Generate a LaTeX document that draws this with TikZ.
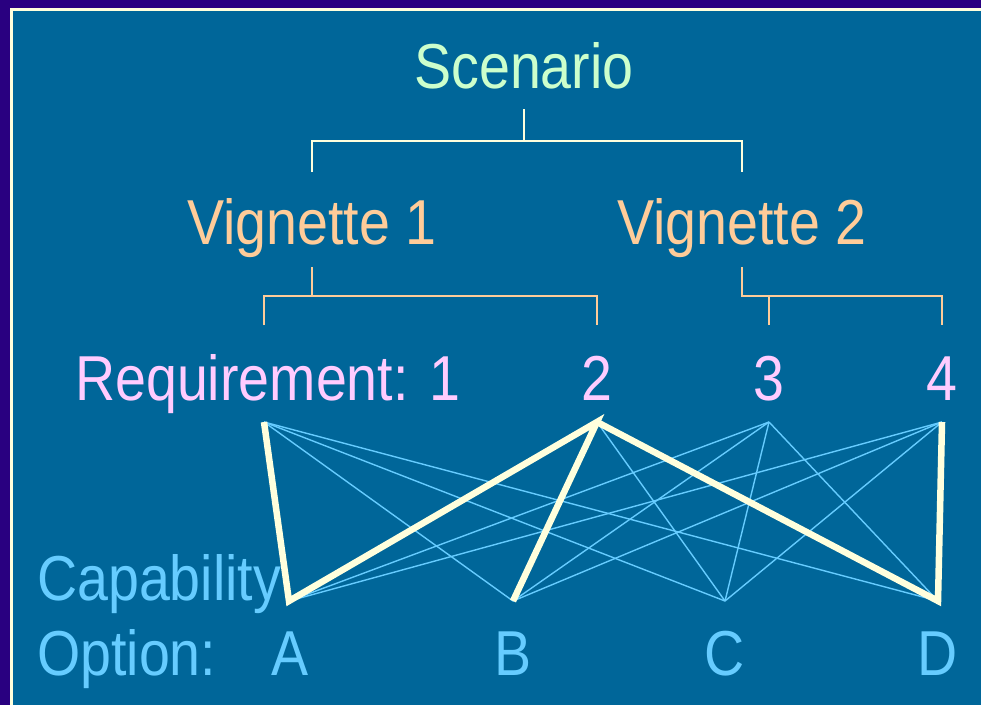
\documentclass[tikz,border=0pt]{standalone}
\usepackage{fontspec}
\setmainfont[FakeStretch=0.875]{Liberation Sans}
\definecolor{navyframe}{HTML}{290080}
\definecolor{slidebg}{HTML}{006699}
\definecolor{cream}{HTML}{FFFFDD}
\definecolor{skyblue}{HTML}{66CCFF}
\definecolor{mintgreen}{HTML}{CCFFCC}
\definecolor{peach}{HTML}{FFCC99}
\definecolor{pinklilac}{HTML}{FFCCFF}
\tikzset{
  bigtext/.style={font=\fontsize{63.5}{70}\selectfont, inner sep=0pt, anchor=base},
  scenbar/.style={draw=cream, line width=1.6pt},
  vigbar/.style={draw=peach, line width=1.6pt},
  thinlink/.style={draw=skyblue, line width=1.4pt},
  thicklink/.style={draw=cream, line width=6.5pt},
}

\begin{document}
\begin{tikzpicture}[x=1pt, y=-1pt]
			%%%%% FRAME %%%%%
			\useasboundingbox (0,0) rectangle (981,705);
			\fill[navyframe] (0,0) rectangle (981,705);
			\fill[cream] (10,8) rectangle (981,705);
			\fill[slidebg] (12.5,10.5) rectangle (981,705);
			
			%%%%% TEXTS %%%%%
			\node[bigtext, text=mintgreen] (scen) at (524,88) {Scenario};
			\node[bigtext, text=peach] (vig1) at (312,244) {Vignette 1};
			\node[bigtext, text=peach] (vig2) at (742,244) {Vignette 2};
			
			\node[bigtext, text=pinklilac, anchor=base west] (req1) at (75,400) {Requirement: 1};
			\node[bigtext, text=pinklilac] (req2) at (597,400) {2};
			\node[bigtext, text=pinklilac] (req3) at (769,400) {3};
			\node[bigtext, text=pinklilac] (req4) at (942,400) {4};
			
			\node[bigtext, text=skyblue, anchor=base west] (capab) at (37,600) {Capability};
			\node[bigtext, text=skyblue, anchor=base west] (optn) at (37,675) {Option:};
			\node[bigtext, text=skyblue] (optA) at (290,675) {A};
			\node[bigtext, text=skyblue] (optB) at (513,675) {B};
			\node[bigtext, text=skyblue] (optC) at (725,675) {C};
			\node[bigtext, text=skyblue] (optD) at (938,675) {D};
			
			%%%%% BRACKETS %%%%%
			\coordinate (sctail) at (524,109);
			\coordinate (v1head) at (312,172);
			\coordinate (v2head) at (742,172);
			\draw[scenbar] (sctail) -- ++(0,32);
			\draw[scenbar] (v1head) -- ++(0,-31) -| (v2head);
			
			\coordinate (v1tail) at (312,267);
			\coordinate (r1head) at (264,325);
			\coordinate (r2head) at (597,325);
			\draw[vigbar] (v1tail) -- ++(0,29);
			\draw[vigbar] (r1head) -- ++(0,-29) -| (r2head);
			
			\coordinate (v2tail) at (742,267);
			\coordinate (r3head) at (769,325);
			\coordinate (r4head) at (942,325);
			\draw[vigbar] (v2tail) |- (r4head |- 0,296) -- (r4head);
			\draw[vigbar] (r3head) -- ++(0,-29);
			
			%%%%% LINKS %%%%%
			\coordinate (r1) at (264,422);
			\coordinate (r2) at (597,422);
			\coordinate (r3) at (769,422);
			\coordinate (r4) at (942,422);
			\coordinate (cA) at (289,601);
			\coordinate (cB) at (513,601);
			\coordinate (cC) at (725,601);
			\coordinate (cD) at (938,601);
			
			\draw[thinlink] (r1) -- (cB);
			\draw[thinlink] (r1) -- (cC);
			\draw[thinlink] (r1) -- (cD);
			\draw[thinlink] (r2) -- (cC);
			\draw[thinlink] (r3) -- (cA);
			\draw[thinlink] (r3) -- (cB);
			\draw[thinlink] (r3) -- (cC);
			\draw[thinlink] (r3) -- (cD);
			\draw[thinlink] (r4) -- (cA);
			\draw[thinlink] (r4) -- (cB);
			\draw[thinlink] (r4) -- (cC);
			
			\draw[thicklink] (r1) -- (cA) -- (r2) -- (cB);
			\draw[thicklink] (r2) -- (cD) -- (r4);
			
			%%%%% END %%%%%
\end{tikzpicture}
\end{document}
